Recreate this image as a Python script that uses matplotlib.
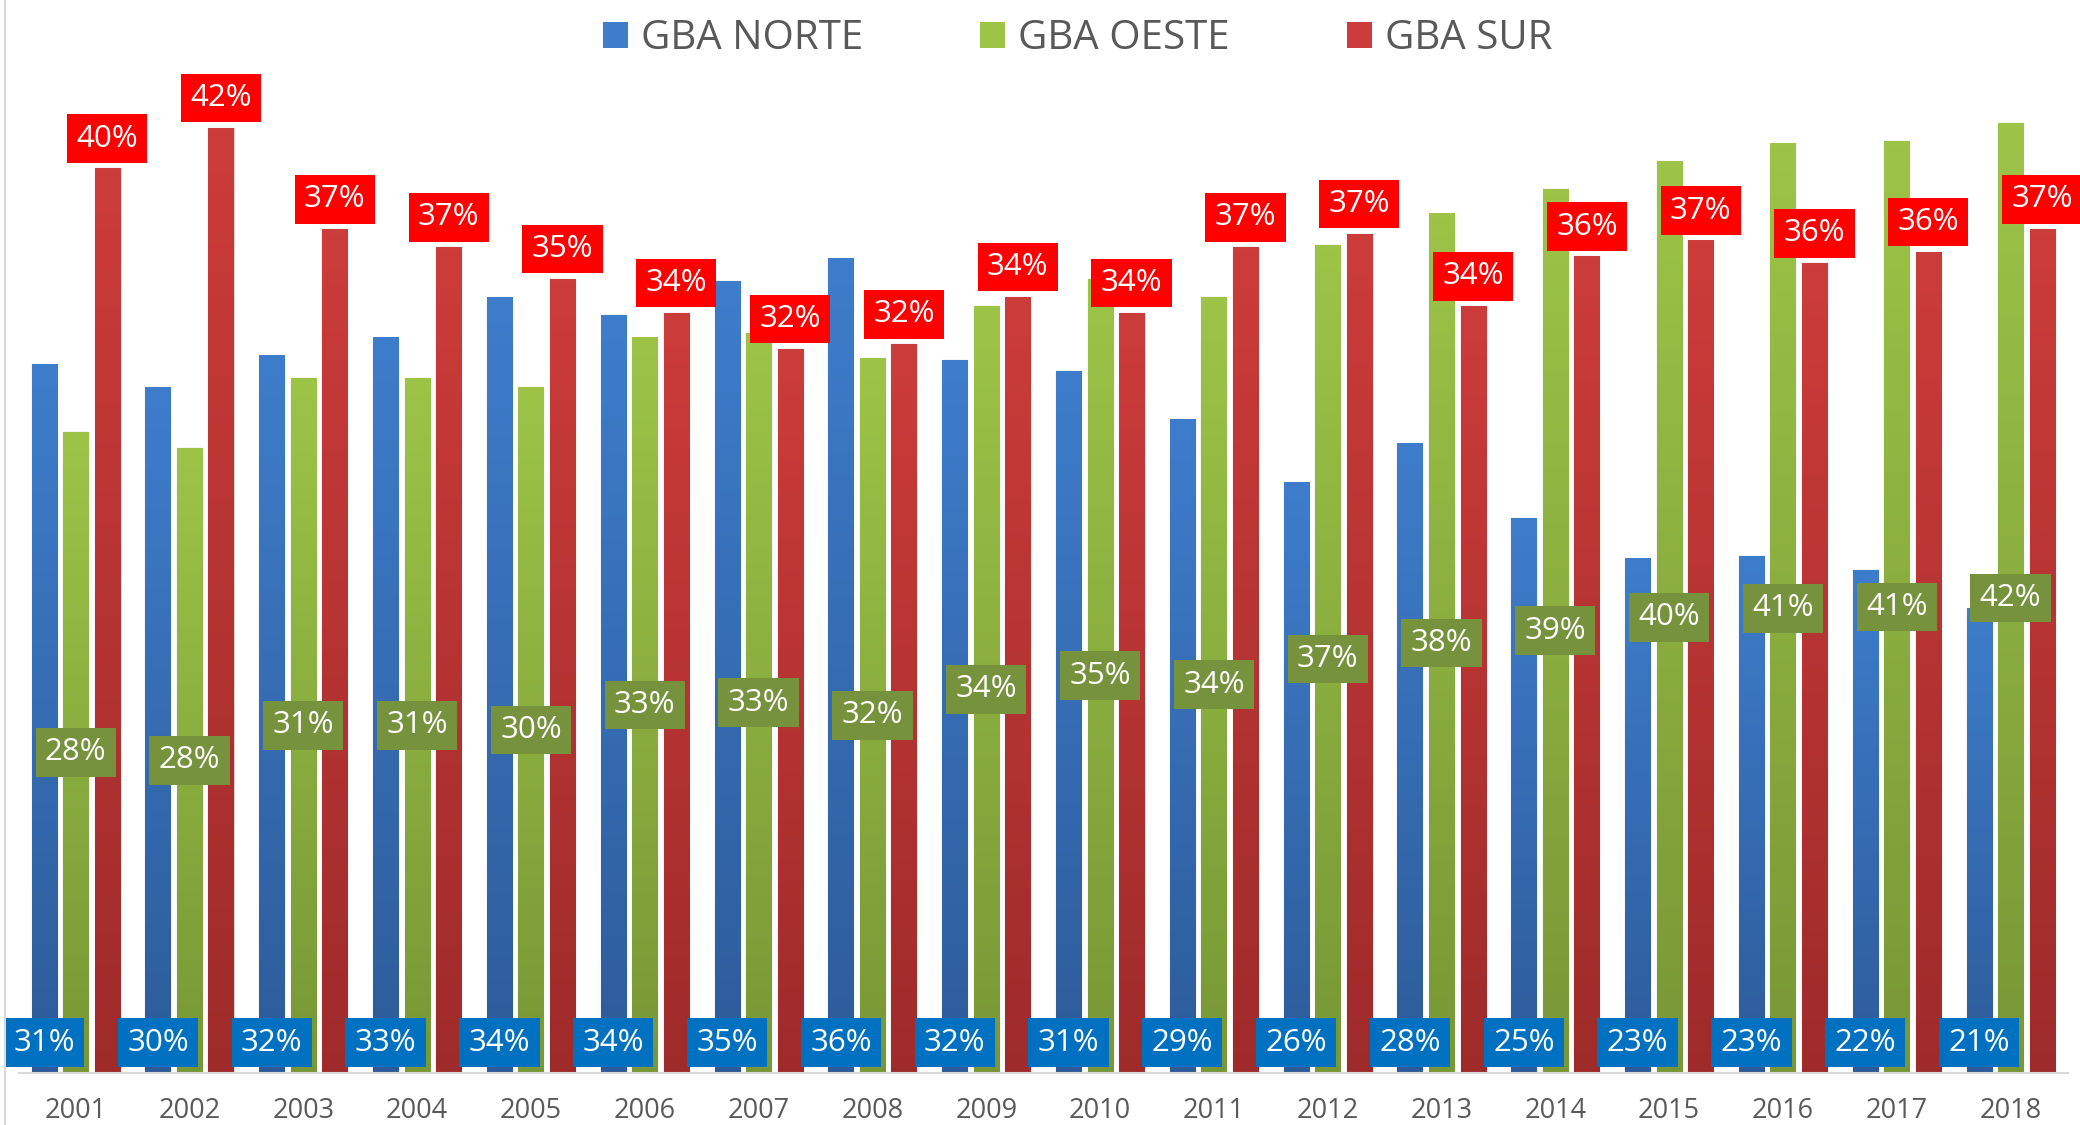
import matplotlib

matplotlib.use("Agg")
import matplotlib.pyplot as plt
import numpy as np
from matplotlib.colors import LinearSegmentedColormap
from matplotlib.lines import Line2D
from matplotlib.patches import Patch

plt.rcParams["font.family"] = ["Open Sans", "DejaVu Sans"]

years = ["2001", "2002", "2003", "2004", "2005", "2006", "2007", "2008", "2009",
         "2010", "2011", "2012", "2013", "2014", "2015", "2016", "2017", "2018"]
gba_norte = [31.4, 30.4, 31.8, 32.6, 34.4, 33.6, 35.1, 36.1, 31.6,
             31.1, 29.0, 26.2, 27.9, 24.6, 22.8, 22.9, 22.3, 20.6]
gba_oeste = [28.4, 27.7, 30.8, 30.8, 30.4, 32.6, 32.8, 31.7, 34.0,
             35.2, 34.4, 36.7, 38.1, 39.2, 40.4, 41.2, 41.3, 42.1]
gba_sur = [40.1, 41.9, 37.4, 36.6, 35.2, 33.7, 32.1, 32.3, 34.4,
           33.7, 36.6, 37.2, 34.0, 36.2, 36.9, 35.9, 36.4, 37.4]
series_names = ["GBA NORTE", "GBA OESTE", "GBA SUR"]

# (bottom, top) gradient colours, label box colour
STYLES = [
    (("#2D5B99", "#3E7DCC"), "#0070C0"),
    (("#789736", "#9DC447"), "#76923C"),
    (("#9E2B2A", "#CC3C3A"), "#FF0000"),
]

BAR_W = 0.22
PITCH = 0.277
LABEL_SIZE = 22.5


def gradient_bar(ax, x0, height, colors):
    cmap = LinearSegmentedColormap.from_list("g", list(colors))
    grad = np.linspace(0, 1, 256).reshape(-1, 1)
    ax.imshow(grad, extent=[x0, x0 + BAR_W, 0, height], origin="lower",
              cmap=cmap, aspect="auto", zorder=2, interpolation="bilinear")


def main() -> None:
    fig = plt.figure(figsize=(20.8, 11.25), dpi=100)
    ax = fig.add_axes([0.009, 0.0465, 0.985, 0.902])
    x = np.arange(len(years))

    all_series = [gba_norte, gba_oeste, gba_sur]
    for idx, (values, (grad_colors, box_color)) in enumerate(zip(all_series, STYLES)):
        offset = (idx - 1) * PITCH
        ax.bar(x + offset, values, width=BAR_W, color="none", edgecolor="#d6d6d6",
               linewidth=1.0, zorder=1)
        for xi, v in zip(x, values):
            gradient_bar(ax, xi + offset - BAR_W / 2, v, grad_colors)
            label = f"{v:.0f}%"
            bbox = dict(boxstyle="square,pad=0.3", facecolor=box_color, edgecolor="none")
            if idx == 0:
                ax.annotate(label, (xi + offset, 0), xytext=(0, 21.6), textcoords="offset points",
                            ha="center", va="center", color="white", fontsize=LABEL_SIZE,
                            bbox=bbox, zorder=5, annotation_clip=False)
            elif idx == 1:
                ax.annotate(label, (xi + offset, v / 2), ha="center", va="center",
                            color="white", fontsize=LABEL_SIZE, bbox=bbox, zorder=5)
            else:
                ax.annotate(label, (xi + offset, v), xytext=(0, 21.5), textcoords="offset points",
                            ha="center", va="center", color="white", fontsize=LABEL_SIZE,
                            bbox=bbox, zorder=5, annotation_clip=False)

    ax.set_xlim(-0.5, len(years) - 0.5)
    ax.set_ylim(0, 45)
    ax.set_xticks(x)
    ax.set_xticklabels(years, fontsize=19.5, color="#595959")
    ax.tick_params(axis="x", length=0, pad=17.5)
    ax.set_yticks([])
    for side in ["top", "left", "right"]:
        ax.spines[side].set_visible(False)
    ax.spines["bottom"].set_color("#D9D9D9")
    ax.spines["bottom"].set_linewidth(1.5)
    ax.spines["bottom"].set_zorder(3)

    handles = [Patch(facecolor=s[0][1], edgecolor="none") for s in STYLES]
    fig.legend(handles, series_names, loc="center", bbox_to_anchor=(0.518, 0.9655), ncol=3,
               frameon=False, fontsize=29, labelcolor="#595959", handlelength=0.62,
               handleheight=0.62, handletextpad=0.33, columnspacing=2.9)

    fig.add_artist(Line2D([0.0024, 0.0024], [0, 1], color="#D9D9D9", linewidth=1.5))

    fig.savefig("out.png", dpi=100)
    plt.close(fig)


if __name__ == "__main__":
    main()
